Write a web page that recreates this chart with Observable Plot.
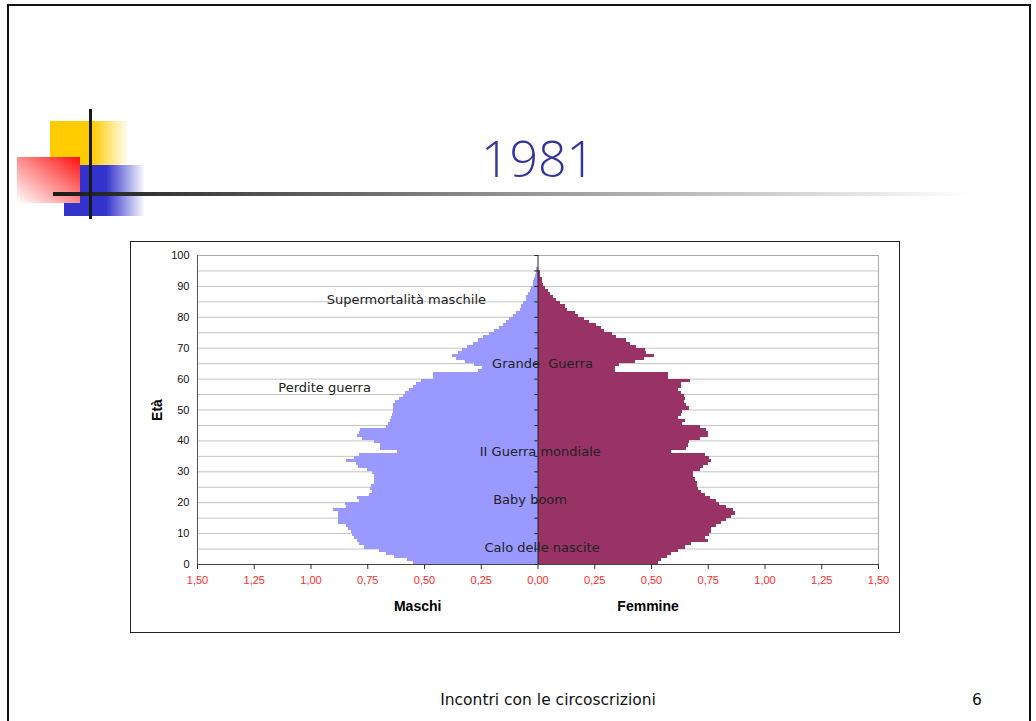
<!DOCTYPE html>
<html>
<head>
<meta charset="utf-8">
<script src="https://cdn.jsdelivr.net/npm/d3@7"></script>
<script src="https://cdn.jsdelivr.net/npm/@observablehq/plot@0.6"></script>
<style>
  html, body { margin: 0; padding: 0; background: #fff; }
  #slide { position: relative; width: 1036px; height: 721px; overflow: hidden; background: #fff; }
  .abs { position: absolute; }
  #frame { left: 7px; top: 4px; width: 1020px; height: 740px; border-left: 2px solid #111; border-top: 2px solid #111; border-right: 2px solid #111; }
  #yellow { left: 50px; top: 121px; width: 79px; height: 44px; background: linear-gradient(to right, #FFCC00 0%, #FFCC00 53%, #ffffff 100%); }
  #blue { left: 64px; top: 165px; width: 81px; height: 51px; background: linear-gradient(to right, #3333CC 0%, #3333CC 52%, #ffffff 100%); }
  #red { left: 17px; top: 157px; width: 63px; height: 46px; background: linear-gradient(to bottom left, #ff1010 0%, #ff8080 45%, #ffffff 100%); }
  #vline { left: 89px; top: 109px; width: 3px; height: 110px; background: #1a1a1a; }
  #hline { left: 53px; top: 192px; width: 920px; height: 4px; background: linear-gradient(to right, #1a1a1a 0%, #888 45%, #ffffff 100%); }
  #title { left: 388px; width: 300px; top: 133px; text-align: center; font-family: "Open Sans", "Noto Sans", sans-serif; font-weight: 300; font-size: 50px; line-height: 50px; color: #333399; }
  #chartbox { left: 130px; top: 241px; width: 768px; height: 390px; border: 1.5px solid #222; }
  #chart { position: absolute; left: 0; top: 0; }
  #footer { left: 348px; width: 400px; top: 691px; text-align: center; font-family: "DejaVu Sans", sans-serif; font-size: 15.5px; color: #111; }
  #page { left: 960px; width: 34px; top: 691px; text-align: center; font-family: "DejaVu Sans", sans-serif; font-size: 15.5px; color: #111; }
</style>
</head>
<body>
<div id="slide">
  <div id="frame" class="abs"></div>
  <div id="yellow" class="abs"></div>
  <div id="blue" class="abs"></div>
  <div id="red" class="abs"></div>
  <div id="hline" class="abs"></div>
  <div id="vline" class="abs"></div>
  <div id="title" class="abs">1981</div>
  <div id="chartbox" class="abs"><div id="chart"></div></div>
  <div id="footer" class="abs">Incontri con le circoscrizioni</div>
  <div id="page" class="abs">6</div>
</div>
<script>
// Età (anni compiuti)
const ages = d3.range(0, 96);
// Maschi: % della popolazione totale per singolo anno d'età
const maschi = [
  0.55, 0.575, 0.63, 0.667, 0.70, 0.763, 0.785, 0.795, 0.81, 0.817,
  0.82, 0.837, 0.844, 0.877, 0.877, 0.877, 0.877, 0.903, 0.844, 0.85,
  0.785, 0.795, 0.741, 0.73, 0.74, 0.735, 0.722, 0.722, 0.722, 0.727,
  0.75, 0.79, 0.80, 0.845, 0.81, 0.785, 0.62, 0.693, 0.693, 0.719,
  0.771, 0.793, 0.785, 0.781, 0.667, 0.66, 0.65, 0.645, 0.64, 0.638,
  0.638, 0.635, 0.626, 0.609, 0.594, 0.582, 0.565, 0.55, 0.535, 0.513,
  0.462, 0.462, 0.26, 0.244, 0.278, 0.318, 0.36, 0.376, 0.351, 0.332,
  0.312, 0.285, 0.263, 0.238, 0.212, 0.19, 0.168, 0.153, 0.138, 0.124,
  0.109, 0.094, 0.079, 0.072, 0.065, 0.05, 0.05, 0.043, 0.035, 0.028,
  0.021, 0.018, 0.015, 0.013, 0.008, 0.005
];
// Femmine
const femmine = [
  0.531, 0.546, 0.57, 0.59, 0.619, 0.648, 0.678, 0.751, 0.737, 0.754,
  0.766, 0.766, 0.788, 0.81, 0.832, 0.851, 0.869, 0.86, 0.83, 0.80,
  0.786, 0.76, 0.74, 0.72, 0.707, 0.703, 0.703, 0.693, 0.685, 0.685,
  0.718, 0.729, 0.75, 0.766, 0.754, 0.737, 0.587, 0.653, 0.663, 0.666,
  0.718, 0.749, 0.749, 0.744, 0.718, 0.638, 0.651, 0.619, 0.634, 0.638,
  0.666, 0.656, 0.645, 0.651, 0.645, 0.634, 0.619, 0.631, 0.634, 0.67,
  0.575, 0.575, 0.34, 0.34, 0.36, 0.428, 0.47, 0.512, 0.479, 0.472,
  0.435, 0.406, 0.391, 0.347, 0.328, 0.291, 0.281, 0.256, 0.225, 0.203,
  0.178, 0.163, 0.131, 0.119, 0.097, 0.082, 0.068, 0.053, 0.045, 0.031,
  0.025, 0.019, 0.019, 0.009, 0.009, 0.004
];
const xTicks = [-1.5, -1.25, -1, -0.75, -0.5, -0.25, 0, 0.25, 0.5, 0.75, 1, 1.25, 1.5];
const yTicks = [0, 10, 20, 30, 40, 50, 60, 70, 80, 90, 100];
const gridAges = [5, 10, 15, 20, 25, 30, 35, 40, 45, 50, 55, 60, 65, 70, 75, 80, 85, 90, 95];
const centerTicks = d3.range(0, 101, 5);
const annotations = [
  {text: "Supermortalità maschile", x: -0.58, y: 85.7},
  {text: "Perdite guerra", x: -0.94, y: 57.2},
  {text: "Grande  Guerra", x: 0.02, y: 65.0},
  {text: "II Guerra mondiale", x: 0.01, y: 36.4},
  {text: "Baby boom", x: -0.035, y: 20.8},
  {text: "Calo delle nascite", x: 0.018, y: 5.3}
];
const sideLabels = [{text: "Maschi", x: -0.53}, {text: "Femmine", x: 0.485}];

const rows = [];
ages.forEach((a, i) => {
  rows.push({age: a, sex: "M", v: maschi[i]});
  rows.push({age: a, sex: "F", v: femmine[i]});
});

const fmt = d => d3.format(".2f")(Math.abs(d)).replace(".", ",");

const chart = Plot.plot({
  width: 768,
  height: 390,
  marginLeft: 66,
  marginRight: 21,
  marginTop: 13,
  marginBottom: 68,
  style: {fontFamily: "'Liberation Sans', Arial, sans-serif", fontSize: "11px", background: "transparent", overflow: "visible"},
  x: {domain: [-1.5, 1.5]},
  y: {domain: [0, 100]},
  marks: [
    Plot.frame({stroke: "#a8a8a8"}),
    Plot.ruleY(gridAges, {stroke: "#c4c4c4", strokeWidth: 1}),
    Plot.rect(rows, {
      x1: d => d.sex === "M" ? -d.v : 0,
      x2: d => d.sex === "M" ? 0 : d.v,
      y1: "age",
      y2: d => d.age + 1,
      fill: d => d.sex === "M" ? "#9999FF" : "#993366",
      shapeRendering: "crispEdges"
    }),
    Plot.ruleX([-1.5], {stroke: "#555"}),
    Plot.ruleY([0], {stroke: "#444"}),
    Plot.ruleX([0], {stroke: "#222"}),
    Plot.ruleY(centerTicks, {x1: -0.014, x2: 0.002, stroke: "#222"}),
    Plot.axisX(xTicks, {tickSize: 5, tickFormat: () => "", stroke: "#333", label: null}),
    Plot.axisX(xTicks, {tickSize: 0, tickPadding: 12, tickFormat: fmt, fill: "#ff2a2a", label: null, fontSize: 11}),
    Plot.axisY(yTicks, {tickSize: 0, tickPadding: 8, label: null, fill: "#111", fontSize: 11}),
    Plot.text(annotations, {x: "x", y: "y", text: "text", fontFamily: "'DejaVu Sans', sans-serif", fontSize: 13, fill: "#222"}),
    Plot.text(sideLabels, {x: "x", text: "text", frameAnchor: "bottom", dy: 46, fontWeight: "bold", fontSize: 14, fill: "#000"}),
    Plot.text(["Età"], {frameAnchor: "left", dx: -40, rotate: -90, textAnchor: "middle", fontWeight: "bold", fontSize: 14, fill: "#000"})
  ]
});
document.getElementById("chart").appendChild(chart);
</script>
</body>
</html>
